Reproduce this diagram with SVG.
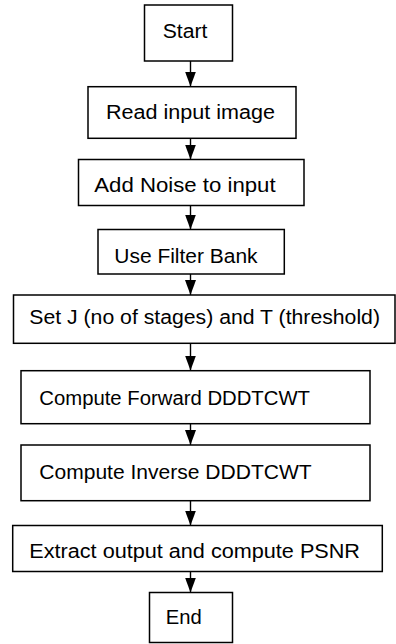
<svg xmlns="http://www.w3.org/2000/svg" width="396" height="644" viewBox="0 0 396 644">
<defs>
<style>
.box{fill:#fff;stroke:#000;stroke-width:1.5}
.t{font-family:"Liberation Sans",Arial,sans-serif;font-size:19.5px;fill:#000}
.c{stroke:#000;stroke-width:1.4;fill:none}
</style>
<marker id="ah" markerUnits="userSpaceOnUse" markerWidth="15" markerHeight="11" refX="15" refY="5.5" orient="auto">
<path d="M0,0 L15,5.5 L0,11 z" fill="#000"/>
</marker>
</defs>
<rect width="396" height="644" fill="#fff"/>
<g id="connectors">
<line class="c" x1="190.5" y1="61" x2="190.5" y2="86.5" marker-end="url(#ah)"/>
<line class="c" x1="190.5" y1="138.5" x2="190.5" y2="159.5" marker-end="url(#ah)"/>
<line class="c" x1="190.5" y1="205.5" x2="190.5" y2="229.5" marker-end="url(#ah)"/>
<line class="c" x1="190.5" y1="274" x2="190.5" y2="295" marker-end="url(#ah)"/>
<line class="c" x1="190.5" y1="343.5" x2="190.5" y2="370.5" marker-end="url(#ah)"/>
<line class="c" x1="190.5" y1="424" x2="190.5" y2="445" marker-end="url(#ah)"/>
<line class="c" x1="190.5" y1="500.5" x2="190.5" y2="525.5" marker-end="url(#ah)"/>
<line class="c" x1="190.5" y1="571.5" x2="190.5" y2="592.5" marker-end="url(#ah)"/>
</g>
<g id="start">
<rect class="box" x="144.5" y="5" width="88" height="56"/>
<text class="t" x="162.7" y="37.7" textLength="44.7" lengthAdjust="spacingAndGlyphs">Start</text>
</g>
<g id="read">
<rect class="box" x="88" y="86.7" width="208" height="51.6"/>
<text class="t" x="106" y="119" textLength="169" lengthAdjust="spacingAndGlyphs">Read input image</text>
</g>
<g id="noise">
<rect class="box" x="78.5" y="159.5" width="225.5" height="46"/>
<text class="t" x="94.3" y="192.3" textLength="181.3" lengthAdjust="spacingAndGlyphs">Add Noise to input</text>
</g>
<g id="filter">
<rect class="box" x="98" y="229.5" width="186.3" height="44.5"/>
<text class="t" x="114.3" y="262.7" textLength="143.3" lengthAdjust="spacingAndGlyphs">Use Filter Bank</text>
</g>
<g id="setj">
<rect class="box" x="13.5" y="295" width="381.5" height="48.3"/>
<text class="t" x="29.3" y="323.5" textLength="350.7" lengthAdjust="spacingAndGlyphs">Set J (no of stages) and T (threshold)</text>
</g>
<g id="forward">
<rect class="box" x="21" y="370.7" width="349" height="53"/>
<text class="t" x="39.3" y="405" textLength="270.7" lengthAdjust="spacingAndGlyphs">Compute Forward DDDTCWT</text>
</g>
<g id="inverse">
<rect class="box" x="21" y="445" width="349" height="55.7"/>
<text class="t" x="39.3" y="479.3" textLength="272.4" lengthAdjust="spacingAndGlyphs">Compute Inverse DDDTCWT</text>
</g>
<g id="extract">
<rect class="box" x="12.7" y="525.5" width="369.6" height="46"/>
<text class="t" x="29.3" y="557.7" textLength="330.7" lengthAdjust="spacingAndGlyphs">Extract output and compute PSNR</text>
</g>
<g id="end">
<rect class="box" x="149.5" y="592.5" width="83" height="50"/>
<text class="t" x="165.7" y="624.3" textLength="36" lengthAdjust="spacingAndGlyphs">End</text>
</g>
</svg>
